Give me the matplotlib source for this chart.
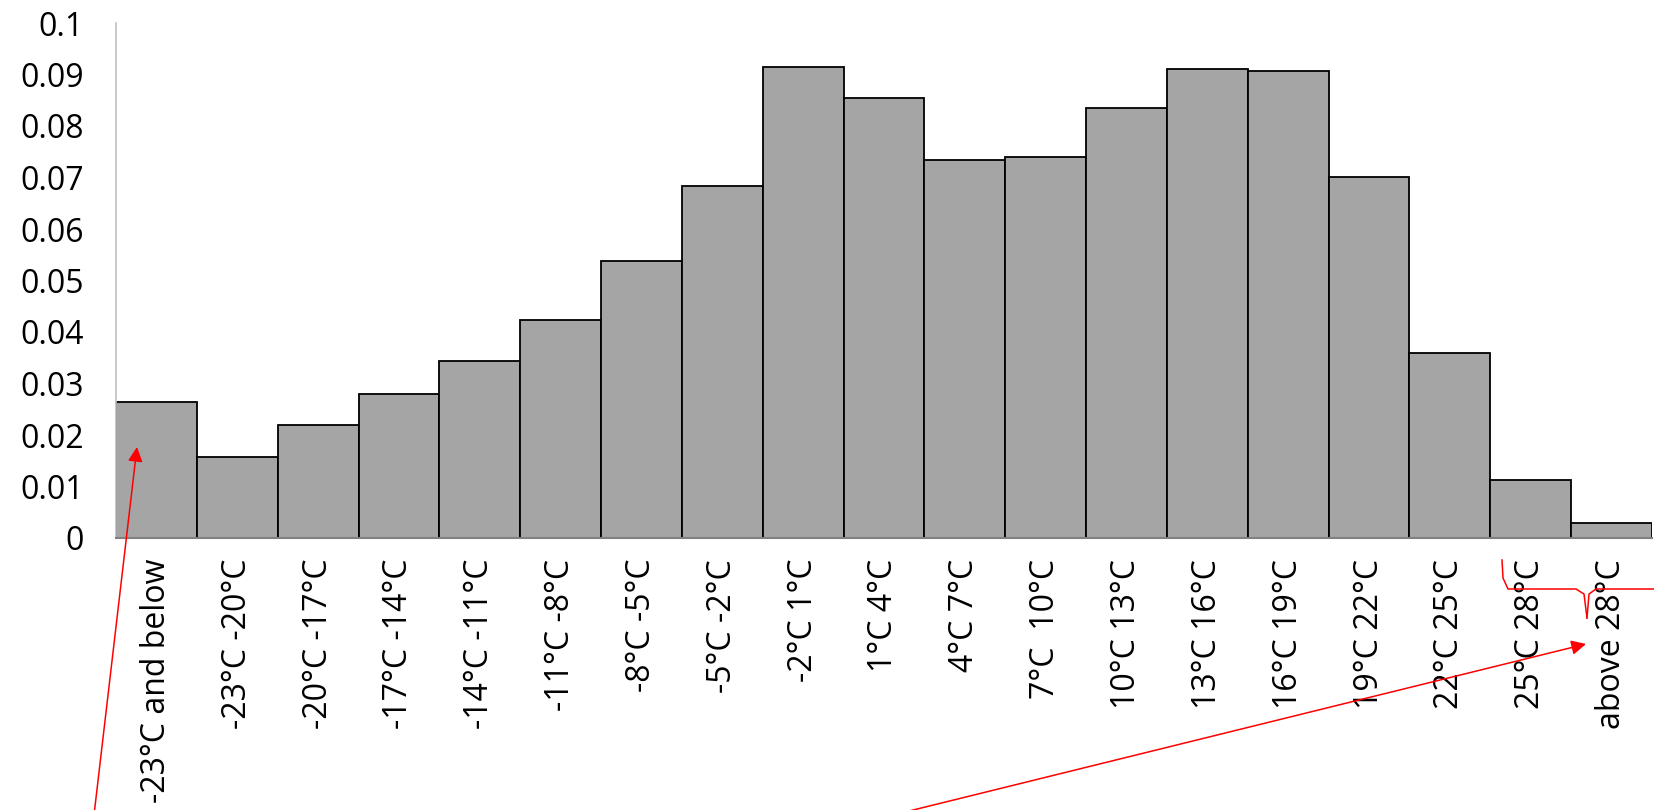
import matplotlib
matplotlib.use("Agg")
import matplotlib.pyplot as plt
from matplotlib.lines import Line2D

plt.rcParams["font.family"] = ["Open Sans", "DejaVu Sans"]

# Rangos de temperatura y frecuencia relativa
rangos = ["-23°C and below", "-23°C -20°C", "-20°C -17°C", "-17°C -14°C",
          "-14°C -11°C", "-11°C -8°C", "-8°C -5°C", "-5°C -2°C", "-2°C 1°C",
          "1°C 4°C", "4°C 7°C", "7°C  10°C", "10°C 13°C", "13°C 16°C",
          "16°C 19°C", "19°C 22°C", "22°C 25°C", "25°C 28°C", "above 28°C"]
frecuencias = [0.0264, 0.0158, 0.0219, 0.0279, 0.0344, 0.0424, 0.0537, 0.0684,
               0.0914, 0.0855, 0.0734, 0.0740, 0.0834, 0.0910, 0.0906, 0.0701,
               0.0359, 0.0113, 0.0029]
marcas_y = [0, 0.01, 0.02, 0.03, 0.04, 0.05, 0.06, 0.07, 0.08, 0.09, 0.1]
etiquetas_y = ["0", "0.01", "0.02", "0.03", "0.04", "0.05", "0.06", "0.07",
               "0.08", "0.09", "0.1"]

W, H = 1654, 810
fig = plt.figure(figsize=(W / 100, H / 100), dpi=100)
ax = fig.add_axes([116 / W, 1 - 538 / H, (1652 - 116) / W, (538 - 23) / H])

x = range(len(rangos))
ax.bar(x, frecuencias, width=1.0, color="#a5a5a5", edgecolor="black",
       linewidth=1.3, zorder=2)

ax.set_xlim(-0.5, len(rangos) - 0.5)
ax.set_ylim(0, 0.1)
ax.set_yticks(marcas_y)
ax.set_yticklabels(etiquetas_y, fontsize=23)
ax.set_xticks(list(x))
ax.set_xticklabels(rangos, rotation=90, fontsize=23, va="top", ha="center")
ax.tick_params(axis="both", length=0)
ax.tick_params(axis="y", pad=23)
ax.tick_params(axis="x", pad=15)

for lado in ["top", "right"]:
    ax.spines[lado].set_visible(False)
ax.spines["left"].set_color("#bfbfbf")
ax.spines["left"].set_linewidth(1.2)
ax.spines["bottom"].set_color("#808080")
ax.spines["bottom"].set_linewidth(1.5)

# Anotaciones en rojo (coordenadas de figura en pixeles)
flecha = dict(arrowstyle="-|>", color="red", lw=1.1, mutation_scale=22,
              shrinkA=0, shrinkB=0)
fig.add_artist(matplotlib.text.Annotation(
    "", xy=(137, H - 447), xytext=(94, -5), xycoords="figure pixels",
    textcoords="figure pixels", arrowprops=flecha))
fig.add_artist(matplotlib.text.Annotation(
    "", xy=(1586, H - 644), xytext=(905, -2), xycoords="figure pixels",
    textcoords="figure pixels", arrowprops=flecha))

izq = [(1502, H - 560), (1503, H - 578), (1508, H - 589), (1576, H - 589),
       (1584, H - 594), (1587, H - 618)]
der = [(1587, H - 618), (1589, H - 594), (1596, H - 589), (1660, H - 589)]
for pts in (izq, der):
    xs, ys = zip(*pts)
    fig.add_artist(Line2D(xs, ys, transform=None, color="red", lw=1.1))

fig.savefig("out.png", dpi=100)
